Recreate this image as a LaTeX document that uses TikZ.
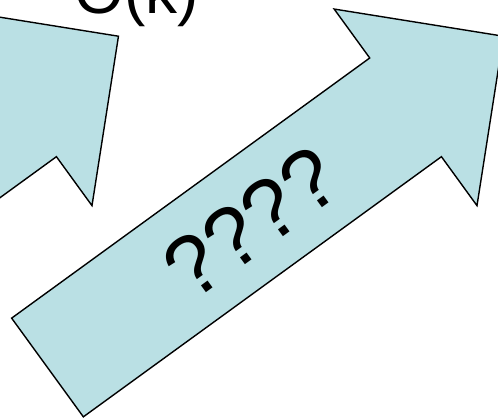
\documentclass[tikz,border=0pt]{standalone}
\usepackage{fontspec}
\setmainfont{Liberation Sans}
\usetikzlibrary{positioning}
\definecolor{arrowfill}{RGB}{186,224,228}
\tikzset{blockarrow/.style={
  fill=arrowfill,draw=black,line width=1.4pt,line join=miter
}}

\begin{document}
\begin{tikzpicture}[x=1pt,y=1pt]
  \useasboundingbox (0,0) rectangle (498,419);
  \clip (0,0) rectangle (498,419);
  \coordinate (T1) at (-337.5,51.5);
  \coordinate (T2) at (47.5,51.5);
  \foreach \t in {T1,T2}
    \draw[blockarrow,shift={(\t)},rotate=36] (0,61)--(442.6,61)--(442.6,121.5)--(563.6,0)
      --(442.6,-121.5)--(442.6,-61)--(0,-61)--cycle;
  \node[anchor=base,inner sep=0pt] (cost) at (137,405) {\fontsize{64}{64}\selectfont O(k)};
  \node[anchor=base,rotate=36,inner sep=0pt] (unknown) at (269,172) {\fontsize{86}{86}\selectfont ????};
\end{tikzpicture}
\end{document}
